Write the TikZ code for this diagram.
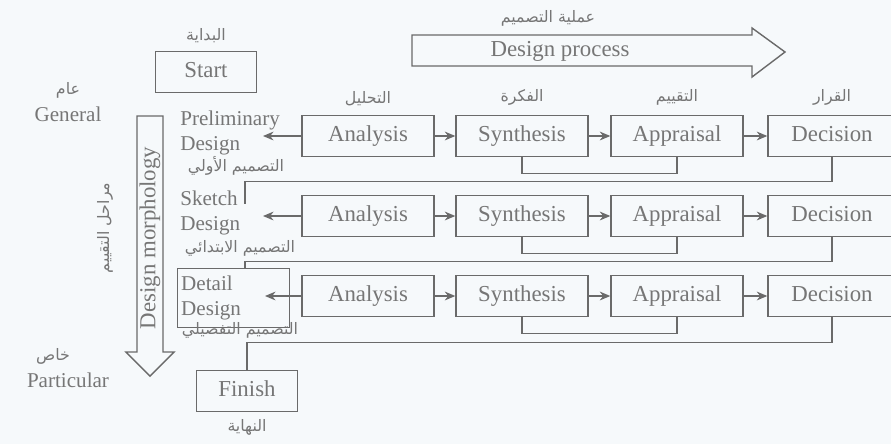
\documentclass[tikz,border=0pt]{standalone}
\usepackage{fontspec}
\setmainfont{Liberation Serif}
\newfontfamily\arabicfont[Script=Arabic]{DejaVu Sans}
\TeXXeTstate=1
\usepackage{tikz}
\usetikzlibrary{arrows.meta, positioning}
\definecolor{ink}{HTML}{6A6A6A}
\definecolor{textgray}{HTML}{767676}
\definecolor{paper}{HTML}{F6F9FB}
\newcommand{\artxt}[1]{{\arabicfont\beginR #1\endR}}

\begin{document}
\begin{tikzpicture}[
    x=0.02cm, y=-0.02cm,
    >={Stealth[length=6pt, width=5pt]},
    stagebox/.style={draw=ink, thick, minimum width=2.64cm, minimum height=0.82cm, inner sep=0pt, text height=9pt, text depth=3pt, font=\fontsize{13}{15}\selectfont, text=textgray},
    endbox/.style={draw=ink, thick, minimum width=2.02cm, minimum height=0.82cm, inner sep=0pt, text height=9pt, text depth=3pt, font=\fontsize{13}{15}\selectfont, text=textgray},
    artext/.style={font=\fontsize{9}{10}\selectfont\arabicfont, text=textgray, inner sep=1pt},
    entext/.style={font=\fontsize{12}{14}\selectfont, text=textgray, align=left, inner sep=0pt},
    link/.style={draw=ink, thick},
]
    % Page
    \fill[paper] (0,0) rectangle (891,444);
    \useasboundingbox (0,0) rectangle (891,444);

    % Design process arrow
    \draw[link] (412,35) -- (752,35) -- (752,28) -- (785,52) -- (752,77) -- (752,66) -- (412,66) -- cycle;
    \node[font=\fontsize{13}{15}\selectfont, text=textgray] (proc) at (560,51) {Design process};
    \node[artext] (procar) at (548,18) {\artxt{عملية التصميم}};

    % Design morphology arrow
    \draw[link] (137,116) -- (163,116) -- (163,352) -- (174,352) -- (150,376) -- (126,352) -- (137,352) -- cycle;
    \node[rotate=90, font=\fontsize{13}{15}\selectfont, text=textgray] (morph) at (150,238) {Design morphology};
    \node[artext, rotate=90] (morphar) at (105,228) {\artxt{مراحل التقييم}};

    % General / Particular
    \node[entext] (gen) at (68,114) {General};
    \node[artext, above=0.12cm of gen] (genar) {\artxt{عام}};
    \node[entext] (part) at (68,380) {Particular};
    \node[artext, above=0.12cm of part, xshift=-0.3cm] (partar) {\artxt{خاص}};

    % Start and finish
    \node[endbox] (start) at (206,72) {Start};
    \node[artext, above=0.12cm of start] (startar) {\artxt{البداية}};
    \node[endbox] (finish) at (247,391) {Finish};
    \node[artext, below=0.1cm of finish] (finishar) {\artxt{النهاية}};

    % Stage labels
    \node[entext, anchor=north west] (prelim) at (180,111) {Preliminary\\Design};
    \node[artext] (prelimar) at (236,166) {\artxt{التصميم الأولي}};
    \node[entext, anchor=north west] (sketch) at (180,191) {Sketch\\Design};
    \node[artext] (sketchar) at (240,248) {\artxt{التصميم الابتدائي}};
    \node[entext, draw=ink, thick, anchor=north west, minimum width=2.2cm, minimum height=1.18cm, text width=2.1cm, inner sep=2pt] (detail) at (177,268) {Detail\\Design};
    \node[artext] (detailar) at (240,330) {\artxt{التصميم التفصيلي}};

    % Row 1
    \node[stagebox] (a1) at (368,136) {Analysis};
    \node[stagebox] (s1) at (522,136) {Synthesis};
    \node[stagebox] (p1) at (677,136) {Appraisal};
    \node[stagebox, minimum width=2.56cm] (d1) at (832,136) {Decision};

    % Row 2
    \node[stagebox] (a2) at (368,216) {Analysis};
    \node[stagebox] (s2) at (522,216) {Synthesis};
    \node[stagebox] (p2) at (677,216) {Appraisal};
    \node[stagebox, minimum width=2.56cm] (d2) at (832,216) {Decision};

    % Row 3
    \node[stagebox] (a3) at (368,296) {Analysis};
    \node[stagebox] (s3) at (522,296) {Synthesis};
    \node[stagebox] (p3) at (677,296) {Appraisal};
    \node[stagebox, minimum width=2.56cm] (d3) at (832,296) {Decision};

    % Column headings
    \node[artext, above=0.14cm of a1] (a1ar) {\artxt{التحليل}};
    \node[artext, above=0.14cm of s1] (s1ar) {\artxt{الفكرة}};
    \node[artext, above=0.14cm of p1] (p1ar) {\artxt{التقييم}};
    \node[artext, above=0.14cm of d1] (d1ar) {\artxt{القرار}};

    % Free ends
    \coordinate (t1) at (263,136);
    \coordinate (t2) at (263,216);
    \coordinate (t3) at (265,296);
    \coordinate (f1) at (245,204);
    \coordinate (f2) at (245,268);

    % Flow along rows
    \draw[->, link] (a1) -- (s1);
    \draw[->, link] (s1) -- (p1);
    \draw[->, link] (p1) -- (d1);
    \draw[->, link] (a2) -- (s2);
    \draw[->, link] (s2) -- (p2);
    \draw[->, link] (p2) -- (d2);
    \draw[->, link] (a3) -- (s3);
    \draw[->, link] (s3) -- (p3);
    \draw[->, link] (p3) -- (d3);

    % Back to stage
    \draw[->, link] (a1) -- (t1);
    \draw[->, link] (a2) -- (t2);
    \draw[->, link] (a3) -- (t3);

    % Synthesis-appraisal loops
    \draw[link] (s1.south) -- ++(0,16) -| (p1.south);
    \draw[link] (s2.south) -- ++(0,16) -| (p2.south);
    \draw[link] (s3.south) -- ++(0,16) -| (p3.south);

    % Decision to next stage
    \draw[link] (d1.south) -- ++(0,24) -| (f1);
    \draw[link] (d2.south) -- ++(0,24) -| (f2);
    \draw[link] (d3.south) -- ++(0,25) -| (finish.north);
\end{tikzpicture}
\end{document}
